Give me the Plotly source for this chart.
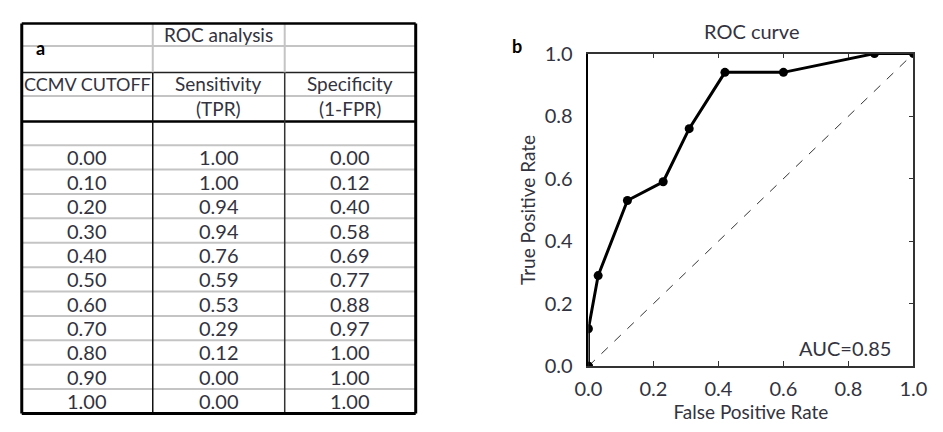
import plotly.graph_objects as go

# ---------------- data ----------------
cutoff = [0.00, 0.10, 0.20, 0.30, 0.40, 0.50, 0.60, 0.70, 0.80, 0.90, 1.00]
sensitivity = [1.00, 1.00, 0.94, 0.94, 0.76, 0.59, 0.53, 0.29, 0.12, 0.00, 0.00]
specificity = [0.00, 0.12, 0.40, 0.58, 0.69, 0.77, 0.88, 0.97, 1.00, 1.00, 1.00]
fpr = [round(1 - s, 2) for s in specificity]
tpr = sensitivity
tick_vals = [0.0, 0.2, 0.4, 0.6, 0.8, 1.0]
auc_label = "AUC=0.85"

W, H = 943, 432
FONT = "Lato"
TXT = "#333340"

def px(x):
    return x / W

def py(y):
    return 1 - y / H

fig = go.Figure()

fig.add_trace(go.Scatter(x=[0, 1], y=[0, 1], mode="lines",
                         line=dict(color="#333333", width=1, dash="dash"),
                         hoverinfo="skip", showlegend=False))
fig.add_trace(go.Scatter(x=fpr, y=tpr, mode="lines+markers",
                         line=dict(color="black", width=3),
                         marker=dict(color="black", size=9, symbol="circle"),
                         showlegend=False))
# invisible trace for the right-hand mirror axis
fig.add_trace(go.Scatter(x=[0], y=[0], yaxis="y2", mode="markers",
                         marker=dict(opacity=0), hoverinfo="skip", showlegend=False))

# ---------------- table geometry ----------------
L, C1, C2, R = 8, 143, 279, 414
top = 11
row_h = (424 - 140) / len(cutoff)
data_lines = [140 + row_h * i for i in range(len(cutoff) + 1)]
bottom = data_lines[-1]

shapes = []

def hline(y, x0, x1, color, width):
    shapes.append(dict(type="line", xref="paper", yref="paper",
                       x0=px(x0), x1=px(x1), y0=py(y), y1=py(y),
                       line=dict(color=color, width=width)))

def vline(x, y0, y1, color, width):
    shapes.append(dict(type="line", xref="paper", yref="paper",
                       x0=px(x), x1=px(x), y0=py(y0), y1=py(y1),
                       line=dict(color=color, width=width)))

GRAY = "#c4c4c4"
hline(35, L, R, GRAY, 2)
hline(63, L, R, "#222222", 1.5)
hline(88, L, R, GRAY, 2)
hline(115, L, R, "black", 2.5)
for y in data_lines[:-1]:
    hline(y, L, R, GRAY, 2)
vline(C1, top, 63, GRAY, 2)
vline(C2, top, 63, GRAY, 2)
vline(C1, 63, bottom, "#111111", 1.5)
vline(C2, 63, bottom, "#333333", 1.5)
hline(top, L, R, "black", 2.5)
hline(bottom, L, R, "black", 3)
vline(L, top, bottom, "black", 3)
vline(R, top, bottom, "black", 3)

annotations = []

def text(x, y, s, size=18, bold=False, color=TXT, xanchor="center", angle=0):
    annotations.append(dict(x=px(x), y=py(y), xref="paper", yref="paper",
                            text=("<b>%s</b>" % s) if bold else s,
                            showarrow=False, xanchor=xanchor, yanchor="middle",
                            textangle=angle,
                            font=dict(family=FONT, size=size, color=color)))

cx = [(L + C1) / 2, (C1 + C2) / 2, (C2 + R) / 2]
text(cx[1], 23, "ROC analysis", 19)
text(27, 37, "a", 18, bold=True, color="black")
text(cx[0], 75, "CCMV CUTOFF", 18)
text(cx[1], 75, "Sensitivity", 19)
text(cx[2], 75, "Specificity", 19)
text(cx[1], 101, "(TPR)", 19)
text(cx[2], 101, "(1-FPR)", 19)
for i in range(len(cutoff)):
    yc = data_lines[i] + row_h / 2
    text(cx[0], yc, "%.2f" % cutoff[i], 20)
    text(cx[1], yc, "%.2f" % sensitivity[i], 20)
    text(cx[2], yc, "%.2f" % specificity[i], 20)

text(760, 19, "ROC curve", 20)
text(518, 35, "b", 18, bold=True, color="black")
annotations.append(dict(x=0.788, y=0.057, xref="x", yref="y", text=auc_label,
                        showarrow=False, xanchor="center", yanchor="middle",
                        font=dict(family=FONT, size=20, color=TXT)))

x0p, x1p, y0p, y1p = 592, 927, 43, 374

fig.update_layout(
    width=W, height=H,
    margin=dict(l=0, r=0, t=0, b=0),
    paper_bgcolor="white", plot_bgcolor="white",
    shapes=shapes, annotations=annotations,
    font=dict(family=FONT, color=TXT),
    xaxis=dict(domain=[px(x0p), px(x1p)], range=[0, 1], tickvals=tick_vals,
               ticktext=["%.1f" % v for v in tick_vals],
               showgrid=False, zeroline=False, showline=True, linecolor="#333333",
               linewidth=1.5, mirror="ticks", ticks="inside", ticklen=5,
               tickcolor="#333333", tickfont=dict(size=20, color=TXT),
               ticklabelstandoff=4,
               title=dict(text="False Positive Rate", font=dict(size=19, color=TXT),
                          standoff=6)),
    yaxis=dict(domain=[py(y1p), py(y0p)], range=[0, 1], tickvals=tick_vals,
               ticktext=["%.1f" % v for v in tick_vals],
               showgrid=False, zeroline=False, showline=True, linecolor="black",
               linewidth=1.5, ticks="", tickfont=dict(size=20, color=TXT),
               ticklabelstandoff=10,
               title=dict(text="True Positive Rate", font=dict(size=19, color=TXT),
                          standoff=4)),
    yaxis2=dict(overlaying="y", side="right", range=[0, 1], tickvals=tick_vals,
                showticklabels=False, showgrid=False, zeroline=False,
                showline=True, linecolor="#333333", linewidth=1.5,
                ticks="inside", ticklen=5, tickcolor="#333333"),
)

post = """
document.documentElement.style.margin='0';
document.documentElement.style.padding='0';
document.body.style.margin='0';
document.body.style.padding='0';
document.documentElement.style.overflow='hidden';
document.body.style.overflow='hidden';
"""
fig.write_html("out.html", post_script=post)
